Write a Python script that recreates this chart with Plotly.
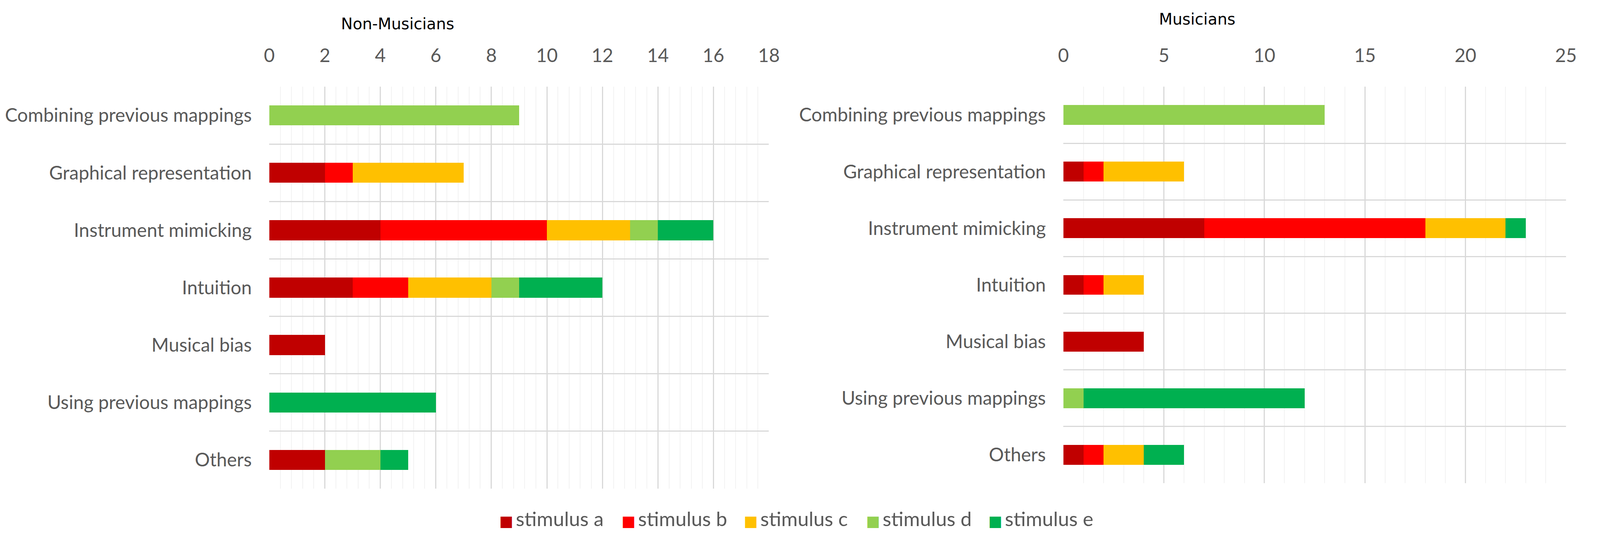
import plotly.graph_objects as go

categories = ["Combining previous mappings", "Graphical representation", "Instrument mimicking",
              "Intuition", "Musical bias", "Using previous mappings", "Others"]
series_names = ["stimulus a", "stimulus b", "stimulus c", "stimulus d", "stimulus e"]
colors = ["#C00000", "#FF0000", "#FFC000", "#92D050", "#00B050"]

# Non-Musicians
nm_a = [0, 2, 4, 3, 2, 0, 2]
nm_b = [0, 1, 6, 2, 0, 0, 0]
nm_c = [0, 4, 3, 3, 0, 0, 0]
nm_d = [9, 0, 1, 1, 0, 0, 2]
nm_e = [0, 0, 2, 3, 0, 6, 1]

# Musicians
m_a = [0, 1, 7, 1, 4, 0, 1]
m_b = [0, 1, 11, 1, 0, 0, 1]
m_c = [0, 4, 4, 2, 0, 0, 2]
m_d = [13, 0, 0, 0, 0, 1, 0]
m_e = [0, 0, 1, 0, 0, 11, 2]

nm_ticks = [0, 2, 4, 6, 8, 10, 12, 14, 16, 18]
m_ticks = [0, 5, 10, 15, 20, 25]

W, H = 4361, 1399
FONT = "Lato"
TXT = "#595959"
FS = 48

fig = go.Figure()
nm_series = [nm_a, nm_b, nm_c, nm_d, nm_e]
m_series = [m_a, m_b, m_c, m_d, m_e]
for name, col, vals in zip(series_names, colors, nm_series):
    fig.add_trace(go.Bar(y=categories, x=vals, orientation="h", name=name,
                         marker=dict(color=col, line=dict(width=0)),
                         xaxis="x", yaxis="y", showlegend=False))
for name, col, vals in zip(series_names, colors, m_series):
    fig.add_trace(go.Bar(y=categories, x=vals, orientation="h", name=name,
                         marker=dict(color=col, line=dict(width=0)),
                         xaxis="x2", yaxis="y2", showlegend=False))
# legend entries: colour key drawn as a square glyph in the legend text
for name, col in zip(series_names, colors):
    label = ('<span style="color:%s;font-family:DejaVu Sans;font-size:38px">\u25A0</span>\u2009%s'
             % (col, name))
    fig.add_trace(go.Bar(y=[None], x=[None], orientation="h", name=label,
                         marker=dict(color="rgba(0,0,0,0)", line=dict(width=0)),
                         xaxis="x", yaxis="y", showlegend=True))

def px_x(v):
    return min(1.0, v / W * 1.005)

def px_y(v):
    return 1 - v / H

xcommon = dict(side="top", showgrid=True, gridcolor="#D9D9D9", gridwidth=3,
               zeroline=False, showline=False, ticks="",
               tickfont=dict(family=FONT, size=FS, color=TXT),
               ticklabelstandoff=52, fixedrange=True)
ycommon = dict(type="category", autorange="reversed", tickson="boundaries",
               showgrid=True, gridcolor="#D9D9D9", gridwidth=3,
               showline=False, ticks="", zeroline=False,
               tickfont=dict(family=FONT, size=FS, color=TXT),
               ticklabelstandoff=44, fixedrange=True)

fig.update_layout(
    autosize=True,
    margin=dict(l=0, r=0, t=0, b=0),
    paper_bgcolor="white", plot_bgcolor="white",
    barmode="stack", bargap=0.65,
    xaxis=dict(domain=[px_x(723), px_x(2092)], anchor="y", range=[0, 18],
               tickvals=nm_ticks, minor=dict(dtick=0.4, showgrid=True, gridcolor="#F2F2F2", gridwidth=2, tick0=0),
               **xcommon),
    yaxis=dict(domain=[px_y(1252), px_y(222)], anchor="x", **ycommon),
    xaxis2=dict(domain=[px_x(2899), px_x(4276)], anchor="y2", range=[0, 25],
                tickvals=m_ticks, minor=dict(dtick=1, showgrid=True, gridcolor="#F2F2F2", gridwidth=2, tick0=0),
                **xcommon),
    yaxis2=dict(domain=[px_y(1238), px_y(222)], anchor="x2", **ycommon),
    legend=dict(orientation="h", x=0.495, xanchor="center", y=px_y(1328), yanchor="middle",
                traceorder="normal", itemwidth=30,
                font=dict(family=FONT, size=51, color=TXT),
                entrywidth=268, entrywidthmode="pixels", bgcolor="rgba(0,0,0,0)"),
    annotations=[
        dict(text="Non-Musicians", x=px_x(1075), y=px_y(61), xref="paper", yref="paper",
             showarrow=False, xanchor="center", yanchor="middle",
             font=dict(family="DejaVu Sans", size=40, color="#000000")),
        dict(text="Musicians", x=px_x(3266), y=px_y(49), xref="paper", yref="paper",
             showarrow=False, xanchor="center", yanchor="middle",
             font=dict(family="DejaVu Sans", size=40, color="#000000")),
    ],
)

post = ("document.documentElement.style.margin='0';document.body.style.margin='0';"
        "document.body.style.overflow='hidden';document.documentElement.style.overflow='hidden';"
        "var gd=document.getElementById('{plot_id}');"
        "gd.style.width='100vw';gd.style.height='100vh';"
        "Plotly.Plots.resize(gd);")

fig.write_html("out.html", default_width="100vw", default_height="100vh",
               config={"responsive": True, "displayModeBar": False}, post_script=post)
